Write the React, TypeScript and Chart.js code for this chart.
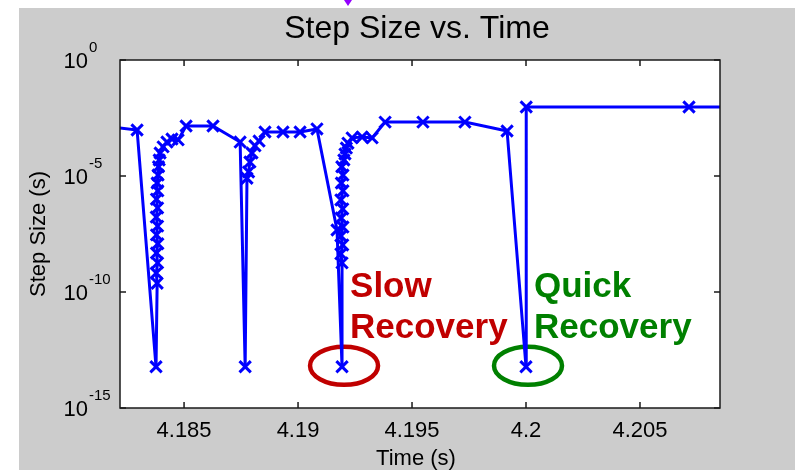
import React, { useEffect, useRef } from "react";
import { Chart, registerables } from "chart.js";

Chart.register(...registerables);

// Simulation time (s) of each step taken by the solver
const timeS = [
  4.18145, 4.18294, 4.18377,
  4.18382, 4.18378, 4.18384, 4.18379, 4.18385, 4.18379, 4.18384, 4.18378,
  4.18384, 4.18379, 4.18385, 4.18382, 4.18386, 4.18388, 4.18391, 4.18395,
  4.18408, 4.18425, 4.18447, 4.18474, 4.18509, 4.18627,
  4.18746, 4.18768, 4.18776, 4.18783, 4.18789, 4.18798, 4.18811, 4.18829,
  4.18855, 4.18934, 4.19009, 4.19083,
  4.19171, 4.19193,
  4.19193, 4.19188, 4.19196, 4.19188, 4.19197, 4.19189, 4.19196, 4.19188,
  4.19197, 4.1919, 4.19197, 4.19192, 4.19201, 4.19206, 4.19212, 4.19219,
  4.19237, 4.19281, 4.19325, 4.19382, 4.19548, 4.19732, 4.19917,
  4.2, 4.20001, 4.20715, 4.21026,
];

// Step size (s) used at each of those times
const stepSizeS = [
  1.4e-3, 9.6e-4, 6e-14,
  2.4e-10, 6.6e-10, 1.8e-9, 4.8e-9, 1.2e-8, 2.9e-8, 6.9e-8, 1.7e-7,
  4.2e-7, 1.0e-6, 2.3e-6, 5.0e-6, 1.1e-5, 2.5e-5, 4.9e-5, 9.8e-5,
  1.8e-4, 2.9e-4, 3.9e-4, 3.6e-4, 1.43e-3, 1.43e-3,
  2.9e-4, 6e-14, 8e-6, 1.5e-5, 4.0e-5, 9.8e-5, 2.0e-4, 3.2e-4,
  7.9e-4, 7.9e-4, 7.9e-4, 1.07e-3,
  4.7e-8, 6e-14,
  1.8e-9, 4.4e-9, 1.07e-8, 2.6e-8, 6.3e-8, 1.55e-7, 3.8e-7, 9.3e-7,
  2.3e-6, 5.0e-6, 1.1e-5, 2.5e-5, 4.9e-5, 8.9e-5, 1.6e-4, 2.6e-4,
  4.4e-4, 4.8e-4, 4.4e-4, 2.1e-3, 2.1e-3, 2.1e-3, 8.7e-4,
  6e-14, 9.4e-3, 9.4e-3, 9.4e-3,
];

const xTickValues = [4.185, 4.19, 4.195, 4.2, 4.205];
const xTickLabels = ["4.185", "4.19", "4.195", "4.2", "4.205"];
const yTickExponents = [0, -5, -10, -15];
const xLimits = [4.18219, 4.20851];
const yLimits = [1e-15, 1];

// The two zero-crossing events and how the solver recovered from them
const slowRecovery = { t: 4.19193, step: 6e-14, lines: ["Slow", "Recovery"], color: "#c00000" };
const quickRecovery = { t: 4.2, step: 6e-14, lines: ["Quick", "Recovery"], color: "#008000" };

const FONT = '"Liberation Sans", Arial, Helvetica, sans-serif';

const figurePlugin = {
  id: "figureDecor",
  beforeDraw(chart: any) {
    const { ctx, width, height, chartArea } = chart;
    ctx.save();
    ctx.fillStyle = "#ffffff";
    ctx.fillRect(0, 0, width, height);
    ctx.fillStyle = "#cccccc";
    ctx.fillRect(19, 8, width - 19, height - 8);
    ctx.fillStyle = "#ffffff";
    ctx.fillRect(chartArea.left, chartArea.top, chartArea.right - chartArea.left, chartArea.bottom - chartArea.top);
    // small violet pointer at the top edge
    ctx.fillStyle = "#9400ff";
    ctx.beginPath();
    ctx.moveTo(344, 0);
    ctx.lineTo(352, 0);
    ctx.lineTo(348, 6);
    ctx.closePath();
    ctx.fill();
    ctx.restore();
  },
  beforeDatasetsDraw(chart: any) {
    const { ctx, scales } = chart;
    ctx.save();
    for (const ev of [slowRecovery, quickRecovery]) {
      const px = scales.x.getPixelForValue(ev.t);
      const py = scales.y.getPixelForValue(ev.step);
      ctx.strokeStyle = ev.color;
      ctx.lineWidth = 4.5;
      ctx.beginPath();
      ctx.ellipse(px + 2, py - 1, 34, 19, 0, 0, Math.PI * 2);
      ctx.stroke();
      ctx.fillStyle = ev.color;
      ctx.font = `bold 35px ${FONT}`;
      ctx.textAlign = "left";
      ctx.textBaseline = "alphabetic";
      ctx.fillText(ev.lines[0], px + 8, py - 70);
      ctx.fillText(ev.lines[1], px + 8, py - 29);
    }
    ctx.restore();
  },
  afterDraw(chart: any) {
    const { ctx, chartArea, scales } = chart;
    const { left, right, top, bottom } = chartArea;
    ctx.save();
    ctx.strokeStyle = "#1a1a1a";
    ctx.lineWidth = 1.5;
    ctx.strokeRect(left, top, right - left, bottom - top);

    const tickLen = 6;
    ctx.beginPath();
    for (const v of xTickValues) {
      const x = scales.x.getPixelForValue(v);
      ctx.moveTo(x, bottom);
      ctx.lineTo(x, bottom - tickLen);
      ctx.moveTo(x, top);
      ctx.lineTo(x, top + tickLen);
    }
    for (const e of yTickExponents) {
      const y = scales.y.getPixelForValue(Math.pow(10, e));
      ctx.moveTo(left, y);
      ctx.lineTo(left + tickLen, y);
      ctx.moveTo(right, y);
      ctx.lineTo(right - tickLen, y);
    }
    ctx.stroke();

    ctx.fillStyle = "#000000";
    ctx.textBaseline = "alphabetic";
    ctx.font = `22px ${FONT}`;
    ctx.textAlign = "center";
    xTickValues.forEach((v, i) => {
      ctx.fillText(xTickLabels[i], scales.x.getPixelForValue(v), 437);
    });

    for (const e of yTickExponents) {
      const y = scales.y.getPixelForValue(Math.pow(10, e));
      ctx.font = `22px ${FONT}`;
      ctx.textAlign = "right";
      ctx.fillText("10", 88, y + 8);
      ctx.font = `15px ${FONT}`;
      ctx.textAlign = "left";
      ctx.fillText(String(e), 89, y - 8);
    }

    ctx.font = `32px ${FONT}`;
    ctx.textAlign = "center";
    ctx.fillText("Step Size vs. Time", 417, 38);

    ctx.font = `22px ${FONT}`;
    ctx.fillText("Time (s)", 416, 465);

    ctx.save();
    ctx.translate(45, (top + bottom) / 2);
    ctx.rotate(-Math.PI / 2);
    ctx.fillText("Step Size (s)", 0, 0);
    ctx.restore();

    ctx.restore();
  },
};

export default function App() {
  const canvasRef = useRef<HTMLCanvasElement>(null);

  useEffect(() => {
    document.body.style.margin = "0";
    const canvas = canvasRef.current;
    if (!canvas) return;
    const points = timeS.map((t, i) => ({ x: t, y: stepSizeS[i] }));
    const chart = new Chart(canvas, {
      type: "line",
      data: {
        datasets: [
          {
            data: points,
            borderColor: "#0000ff",
            borderWidth: 3,
            pointStyle: "crossRot",
            pointRadius: 8,
            pointBorderColor: "#0000ff",
            pointBorderWidth: 3,
            pointBackgroundColor: "rgba(0,0,0,0)",
            tension: 0,
            fill: false,
            clip: 0,
          } as any,
        ],
      },
      options: {
        animation: false,
        responsive: false,
        devicePixelRatio: 1,
        events: [],
        layout: { padding: { top: 60, right: 75, left: 0, bottom: 0 } },
        plugins: { legend: { display: false }, tooltip: { enabled: false }, title: { display: false } },
        scales: {
          x: {
            type: "linear",
            min: xLimits[0],
            max: xLimits[1],
            grid: { display: false },
            border: { display: false },
            ticks: { display: false },
            afterBuildTicks: (s: any) => {
              s.ticks = xTickValues.map((v) => ({ value: v }));
            },
            afterFit: (s: any) => {
              s.height = 62;
            },
          },
          y: {
            type: "logarithmic",
            min: yLimits[0],
            max: yLimits[1],
            grid: { display: false },
            border: { display: false },
            ticks: { display: false },
            afterBuildTicks: (s: any) => {
              s.ticks = yTickExponents.map((e) => ({ value: Math.pow(10, e) }));
            },
            afterFit: (s: any) => {
              s.width = 120;
            },
          },
        },
      } as any,
      plugins: [figurePlugin],
    });
    return () => chart.destroy();
  }, []);

  return (
    <div style={{ width: 795, height: 470 }}>
      <canvas ref={canvasRef} width={795} height={470} style={{ display: "block", width: 795, height: 470 }} />
    </div>
  );
}
